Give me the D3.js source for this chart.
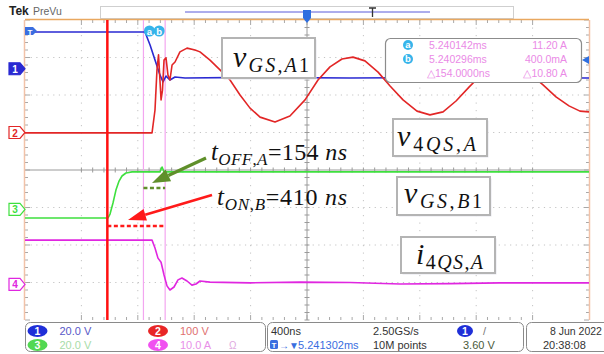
<!DOCTYPE html>
<html><head><meta charset="utf-8">
<script src="https://cdn.jsdelivr.net/npm/d3@7"></script>
<style>
body{margin:0;background:#fff;}
svg{display:block;}
</style></head><body>
<svg id="c" width="604" height="354"></svg>
<script>
// ---------------- DATA ----------------
const timeDomain = [-2000, 2000];          // ns relative to trigger (400 ns/div)
const divDomain = [-4, 4];                 // vertical divisions
const channelIds = ["1", "2", "3", "4"];
const channelScales = [20, 100, 20, 10];   // V/div, V/div, V/div, A/div
const channelPositions = [2.7, 1.0, -1.05, -3.05]; // divisions

// ch1 : v_GS,A1 (V)
const ch1Time  = [-2000,-1149,-1113,-1078,-1043,-1021,-1000,-972,-936,-865,-404,305,1014,2000];
const ch1Value = [19.6,19.6,12.7,4.7,-3.3,-7.0,-3.9,-6.0,-4.4,-4.9,-4.6,-4.9,-4.7,-4.9];

// ch2 : v_4QS,A (V)
const ch2Time  = [-2000,-1099,-1078,-1064,-1053,-1043,-1035,-1025,-1014,-1000,-986,-972,-957,-936,-901,-851,-794,-759,-688,-617,-546,-475,-404,-333,-227,-121,-14,78,163,248,326,411,504,589,681,780,872,965,1057,1149,1241,1326,1404,1489,1582,1674,1766,1858,1936,2000];
const ch2Value = [-1,-1,60,167,207,140,87,113,193,199,153,140,180,188,215,225,220,215,193,167,140,100,65,41,28,44,87,140,175,196,201,191,161,124,87,57,47,55,84,121,156,180,188,180,156,127,95,71,57,55];

// ch3 : v_GS,B1 (V)
const ch3Time  = [-2000,-1411,-1397,-1376,-1355,-1333,-1312,-1284,-1241,-1043,-1028,-1014,2000];
const ch3Value = [-4.6,-4.6,-2.5,3.4,10.3,15.1,17.8,19.4,20.0,20.0,22.6,20.0,20.0];

// ch4 : i_4QS,A (A)
const ch4Time  = [-2000,-1099,-1078,-1057,-1035,-1014,-993,-972,-943,-915,-887,-851,-816,-787,-759,-688,-404,-50,305,660,1014,1369,2000];
const ch4Value = [11.8,11.8,9.7,7.0,5.9,2.5,-0.4,-1.5,-0.7,1.2,1.7,0.9,-0.2,0.1,0.9,0.6,0.4,0.6,0.5,0.1,0.2,0.4,0.4];

const cursorTimes = [-1160, -1006];        // cursor a, cursor b (ns)
const cursorLabels = ["a", "b"];
const turnOnStartTime = -1416;             // red marker line (ns)
const cursorReadout = [
  ["5.240142ms", "11.20 A"],
  ["5.240296ms", "400.0mA"],
  ["\u25B3154.0000ns", "\u25B310.80 A"]
];
const chScaleLabels = ["20.0 V", "100 V", "20.0 V", "10.0 A"];
const timebaseLabels = ["400ns", "5.241302ms", "2.50GS/s", "10M points", "3.60 V"];
const dateLabels = ["8 Jun 2022", "20:38:08"];

// ---------------- LAYOUT ----------------
const svg = d3.select("#c");
const X0 = 25, X1 = 589, Y0 = 20, Y1 = 320;
const x = d3.scaleLinear().domain(timeDomain).range([X0, X1]);
const y = d3.scaleLinear().domain(divDomain).range([Y1, Y0]);
const chColors = ["#2a2ad2", "#e22626", "#3ee03e", "#e026e0"];
const traces = [[ch1Time,ch1Value],[ch2Time,ch2Value],[ch3Time,ch3Value],[ch4Time,ch4Value]];

svg.append("rect").attr("width",604).attr("height",354).attr("fill","#fff");

// header
svg.append("text").attr("x",9).attr("y",15).attr("font-family","Liberation Sans, Arial").attr("font-weight","bold").attr("font-size",12).attr("fill","#222").text("Tek");
svg.append("text").attr("x",33).attr("y",15).attr("font-family","Liberation Sans, Arial").attr("font-size",10.5).attr("fill","#666").text("PreVu");
svg.append("rect").attr("x",100.5).attr("y",6.5).attr("width",413).attr("height",12).attr("fill","#fff").attr("stroke","#cfcfcf");
svg.append("line").attr("x1",185).attr("x2",430).attr("y1",12).attr("y2",12).attr("stroke","#5a5ad8").attr("stroke-width",1);
svg.append("path").attr("d","M369,8 H376 M372.5,8 V17").attr("stroke","#333").attr("stroke-width",1.3);

// grid dotted lines
const gridG = svg.append("g");
d3.range(-4,5).forEach(k=>{
  if(k!==0){
    gridG.append("line").attr("x1",x(k*400)).attr("x2",x(k*400)).attr("y1",Y0).attr("y2",Y1)
      .attr("stroke","#c4c4c4").attr("stroke-dasharray","1.2,6.3");
  }
});
d3.range(-3,4).forEach(k=>{
  if(k!==0){
    gridG.append("line").attr("x1",X0).attr("x2",X1).attr("y1",y(k)).attr("y2",y(k))
      .attr("stroke","#c4c4c4").attr("stroke-dasharray","1.2,4.44");
  }
});
// center lines with ticks
gridG.append("line").attr("x1",x(0)).attr("x2",x(0)).attr("y1",Y0).attr("y2",Y1).attr("stroke","#9a9a9a");
gridG.append("line").attr("x1",X0).attr("x2",X1).attr("y1",y(0)).attr("y2",y(0)).attr("stroke","#9a9a9a");
d3.range(-20,21).forEach(k=>{
  const xv = x(k*80);
  gridG.append("line").attr("x1",xv).attr("x2",xv).attr("y1",y(0)-2.5).attr("y2",y(0)+2.5).attr("stroke","#9a9a9a");
  gridG.append("line").attr("x1",xv).attr("x2",xv).attr("y1",Y1-(k%5===0?5:3)).attr("y2",Y1).attr("stroke","#a8a8a8");
  gridG.append("line").attr("x1",xv).attr("x2",xv).attr("y1",Y0).attr("y2",Y0+(k%5===0?5:3)).attr("stroke","#a8a8a8");
});
d3.range(-20,21).forEach(k=>{
  const yv = y(k*0.2);
  gridG.append("line").attr("x1",x(0)-2.5).attr("x2",x(0)+2.5).attr("y1",yv).attr("y2",yv).attr("stroke","#9a9a9a");
  gridG.append("line").attr("x1",X0).attr("x2",X0+(k%5===0?5:3)).attr("y1",yv).attr("y2",yv).attr("stroke","#a8a8a8");
  gridG.append("line").attr("x1",X1-(k%5===0?5:3)).attr("x2",X1).attr("y1",yv).attr("y2",yv).attr("stroke","#a8a8a8");
});
// frame
svg.append("line").attr("x1",X0).attr("x2",X1).attr("y1",Y0-0.5).attr("y2",Y0-0.5).attr("stroke","#e9a860").attr("stroke-width",1.5);
svg.append("line").attr("x1",X0-0.5).attr("x2",X0-0.5).attr("y1",Y0).attr("y2",Y1).attr("stroke","#f2c2a8").attr("stroke-width",1.5);
svg.append("line").attr("x1",X1+0.5).attr("x2",X1+0.5).attr("y1",Y0).attr("y2",Y1).attr("stroke","#f2c2a8").attr("stroke-width",1.5);

// cursors
cursorTimes.forEach(t=>{
  svg.append("line").attr("x1",x(t)).attr("x2",x(t)).attr("y1",Y0).attr("y2",Y1).attr("stroke","#f3a6f0").attr("stroke-width",1.2);
});

// traces
const line = d3.line().x(d=>x(d[0])).y(d=>d[1]);
traces.forEach((tr,i)=>{
  const pts = tr[0].map((t,j)=>[t, y(channelPositions[i] + tr[1][j]/channelScales[i])]);
  svg.append("path").attr("d",line(pts)).attr("fill","none").attr("stroke",chColors[i]).attr("stroke-width",1.6).attr("stroke-linejoin","round");
});

// red marker line
svg.append("line").attr("x1",x(turnOnStartTime)).attr("x2",x(turnOnStartTime)).attr("y1",Y0).attr("y2",Y1).attr("stroke","#ff1010").attr("stroke-width",2.5);

// channel markers left
channelIds.forEach((id,i)=>{
  const yc = y(channelPositions[i]);
  const solid = i===0;
  const g = svg.append("g");
  g.append("path").attr("d",`M9,${yc-6} H20 L25,${yc} L20,${yc+6} H9 Z`)
    .attr("fill", solid? chColors[i] : "#fff").attr("stroke",chColors[i]).attr("stroke-width",1.2);
  g.append("text").attr("x",15).attr("y",yc+4).attr("text-anchor","middle").attr("font-family","Liberation Sans, Arial").attr("font-size",10).attr("font-weight","bold")
    .attr("fill", solid? "#fff" : chColors[i]).text(id);
});
// trigger level "T" badge near ch1 high
svg.append("path").attr("d",`M25,${y(4)+7} H33 L37,${y(4)+11} L33,${y(4)+15} H25 Z`).attr("fill","#3a6ee0");
svg.append("text").attr("x",30).attr("y",y(4)+14.5).attr("text-anchor","middle").attr("font-family","Liberation Sans, Arial").attr("font-size",8).attr("font-weight","bold").attr("fill","#fff").text("T");
// trigger position marker
svg.append("path").attr("d",`M${x(0)-4},10 H${x(0)+4} V18 L${x(0)},23 L${x(0)-4},18 Z`).attr("fill","#2f6fe0");
// right marker arrow
svg.append("path").attr("d","M582,60 L589,56 L589,64 Z").attr("fill","#2f6fe0");

// cursor badges at top
cursorLabels.forEach((l,i)=>{
  const cx = x(cursorTimes[i]) + (i===0?6:-6);
  svg.append("circle").attr("cx",cx).attr("cy",31).attr("r",5.5).attr("fill","#36b4ea");
  svg.append("text").attr("x",cx).attr("y",34.5).attr("text-anchor","middle").attr("font-family","Liberation Sans, Arial").attr("font-size",9.5).attr("font-weight","bold").attr("fill","#fff").text(l);
});

// annotation dashes
svg.append("line").attr("x1",x(cursorTimes[0])).attr("x2",x(cursorTimes[1])).attr("y1",188).attr("y2",188)
  .attr("stroke","#5f8f2a").attr("stroke-width",2.5).attr("stroke-dasharray","4,2.5");
svg.append("line").attr("x1",x(turnOnStartTime)).attr("x2",x(cursorTimes[1])).attr("y1",226).attr("y2",226)
  .attr("stroke","#ff1a1a").attr("stroke-width",2.5).attr("stroke-dasharray","4,2.5");

// arrows
function arrow(x1,y1,x2,y2,color,w,hl,hw){
  const a = Math.atan2(y2-y1,x2-x1);
  const bx = x2 - hl*Math.cos(a), by = y2 - hl*Math.sin(a);
  svg.append("line").attr("x1",x1).attr("y1",y1).attr("x2",bx).attr("y2",by).attr("stroke",color).attr("stroke-width",w);
  const px = -Math.sin(a)*hw/2, py = Math.cos(a)*hw/2;
  svg.append("path").attr("d",`M${x2},${y2} L${bx+px},${by+py} L${bx-px},${by-py} Z`).attr("fill",color);
}
arrow(206,158,152,183,"#5f8f2a",3.2,18,13);
arrow(212,195,128,220,"#ff1a1a",2.6,18,12);

// label boxes
function mathText(gx, gy, parts, len){
  const t = svg.append("text").attr("x",gx).attr("y",gy).attr("font-family","Liberation Serif, Times New Roman, serif").attr("fill","#111");
  let cur = 0;
  parts.forEach(p=>{
    t.append("tspan").attr("font-size",p.s).attr("font-style",p.i?"italic":"normal").attr("dy",p.o-cur).text(p.t);
    cur = p.o;
  });
  if(len) t.attr("textLength",len).attr("lengthAdjust","spacing");
  return t;
}
function labelBox(bx,by,bw,bh){
  svg.append("rect").attr("x",bx+1.5).attr("y",by+1.5).attr("width",bw).attr("height",bh).attr("fill","#e6e6ee");
  svg.append("rect").attr("x",bx).attr("y",by).attr("width",bw).attr("height",bh).attr("fill","#fff").attr("stroke","#b4b4b4").attr("stroke-width",2);
}
labelBox(222,38,93,40);
mathText(233,67,[{t:"v",s:30,i:true,o:0},{t:"GS",s:20,i:true,o:5},{t:",",s:20,i:false,o:5},{t:"A",s:20,i:true,o:5},{t:"1",s:20,i:false,o:5}],76);
labelBox(393,119,94,37);
mathText(397,146,[{t:"v",s:30,i:true,o:0},{t:"4",s:20,i:false,o:5},{t:"QS",s:20,i:true,o:5},{t:",",s:20,i:false,o:5},{t:"A",s:20,i:true,o:5}],79);
labelBox(397,177,93,38);
mathText(404,203,[{t:"v",s:30,i:true,o:0},{t:"GS",s:20,i:true,o:5},{t:",",s:20,i:false,o:5},{t:"B",s:20,i:true,o:5},{t:"1",s:20,i:false,o:5}],78);
labelBox(401,237,94,36);
mathText(416,264,[{t:"i",s:30,i:true,o:0},{t:"4",s:20,i:false,o:5},{t:"QS",s:20,i:true,o:5},{t:",",s:20,i:false,o:5},{t:"A",s:20,i:true,o:5}],67);

mathText(211,160,[{t:"t",s:25,i:true,o:0},{t:"OFF",s:17,i:true,o:5},{t:",",s:17,i:false,o:5},{t:"A",s:17,i:true,o:5},{t:"=154 ",s:24,i:false,o:0},{t:"ns",s:24,i:true,o:0}],136);
mathText(217,205,[{t:"t",s:25,i:true,o:0},{t:"ON",s:17,i:true,o:5},{t:",",s:17,i:false,o:5},{t:"B",s:17,i:true,o:5},{t:"=410 ",s:24,i:false,o:0},{t:"ns",s:24,i:true,o:0}],130);

// cursor readout box
svg.append("rect").attr("x",385.5).attr("y",38.5).attr("width",196).attr("height",44).attr("rx",5).attr("fill","#fff").attr("stroke","#8c8c8c").attr("stroke-width",1.2);
const sans = "Liberation Sans, Arial, sans-serif";
const rowY = [49, 63, 77];
cursorReadout.forEach((r,i)=>{
  if(i<2){
    svg.append("circle").attr("cx",408).attr("cy",rowY[i]-4).attr("r",5).attr("fill","#36b4ea");
    svg.append("text").attr("x",408).attr("y",rowY[i]-0.8).attr("text-anchor","middle").attr("font-family",sans).attr("font-size",9.5).attr("font-weight","bold").attr("fill","#fff").text(cursorLabels[i]);
  }
  svg.append("text").attr("x",i<2?429:427).attr("y",rowY[i]).attr("font-family",sans).attr("font-size",10.5).attr("fill","#ea8ae6").text(r[0]);
  svg.append("text").attr("x",567).attr("y",rowY[i]).attr("text-anchor","end").attr("font-family",sans).attr("font-size",10.5).attr("fill","#ea8ae6").text(r[1]);
});

// status bar
const sb = svg.append("g");
sb.append("rect").attr("x",25.5).attr("y",322.5).attr("width",240).attr("height",29).attr("rx",5).attr("fill","#fff").attr("stroke","#8a8a8a");
sb.append("rect").attr("x",267.5).attr("y",322.5).attr("width",256).attr("height",29).attr("rx",5).attr("fill","#fff").attr("stroke","#8a8a8a");
sb.append("rect").attr("x",526.5).attr("y",322.5).attr("width",90).attr("height",29).attr("rx",5).attr("fill","#fff").attr("stroke","#8a8a8a");
const sRow = [335, 349];
const badgeFill = ["#1f2fd8","#e82626","#52d852","#f050f0"];
const scaleCol = ["#5858c8","#e07070","#a8dca8","#e890e8"];
[[0,37.5,0],[1,158,0],[2,37.5,1],[3,158,1]].forEach(([ci,bx,row])=>{
  sb.append("ellipse").attr("cx",bx).attr("cy",sRow[row]-4).attr("rx",10).attr("ry",6).attr("fill",badgeFill[ci]);
  sb.append("text").attr("x",bx).attr("y",sRow[row]-0.3).attr("text-anchor","middle").attr("font-family",sans).attr("font-size",10.5).attr("font-weight","bold").attr("fill","#fff").text(channelIds[ci]);
  sb.append("text").attr("x",bx+22).attr("y",sRow[row]).attr("font-family",sans).attr("font-size",11).attr("fill",scaleCol[ci]).text(chScaleLabels[ci]);
});
sb.append("text").attr("x",229).attr("y",sRow[1]).attr("font-family",sans).attr("font-size",10).attr("fill","#e0a8e0").text("\u03A9");
sb.append("text").attr("x",271).attr("y",sRow[0]).attr("font-family",sans).attr("font-size",11).attr("fill","#333").text(timebaseLabels[0]);
sb.append("rect").attr("x",270).attr("y",sRow[1]-9).attr("width",8).attr("height",9).attr("rx",1.5).attr("fill","#3a6ee0");
sb.append("text").attr("x",274).attr("y",sRow[1]-1.5).attr("text-anchor","middle").attr("font-family",sans).attr("font-size",8).attr("font-weight","bold").attr("fill","#fff").text("T");
sb.append("text").attr("x",279).attr("y",sRow[1]).attr("font-family",sans).attr("font-size",10).attr("fill","#3a6ee0").text("\u2192\u25BC");
sb.append("text").attr("x",298).attr("y",sRow[1]).attr("font-family",sans).attr("font-size",11).attr("fill","#3a6ee0").text(timebaseLabels[1]);
sb.append("text").attr("x",373).attr("y",sRow[0]).attr("font-family",sans).attr("font-size",11).attr("fill","#333").text(timebaseLabels[2]);
sb.append("text").attr("x",373).attr("y",sRow[1]).attr("font-family",sans).attr("font-size",11).attr("fill","#333").text(timebaseLabels[3]);
sb.append("ellipse").attr("cx",465).attr("cy",sRow[0]-4).attr("rx",8).attr("ry",6).attr("fill","#1f2fd8");
sb.append("text").attr("x",465).attr("y",sRow[0]-0.3).attr("text-anchor","middle").attr("font-family",sans).attr("font-size",10.5).attr("font-weight","bold").attr("fill","#fff").text("1");
sb.append("text").attr("x",483).attr("y",sRow[0]).attr("font-family",sans).attr("font-size",11).attr("fill","#777").text("/");
sb.append("text").attr("x",463).attr("y",sRow[1]).attr("font-family",sans).attr("font-size",11).attr("fill","#4a5a3a").text(timebaseLabels[4]);
sb.append("text").attr("x",550).attr("y",sRow[0]).attr("font-family",sans).attr("font-size",10.5).attr("fill","#333").text(dateLabels[0]);
sb.append("text").attr("x",543).attr("y",sRow[1]).attr("font-family",sans).attr("font-size",11).attr("fill","#333").text(dateLabels[1]);
</script>
</body></html>
